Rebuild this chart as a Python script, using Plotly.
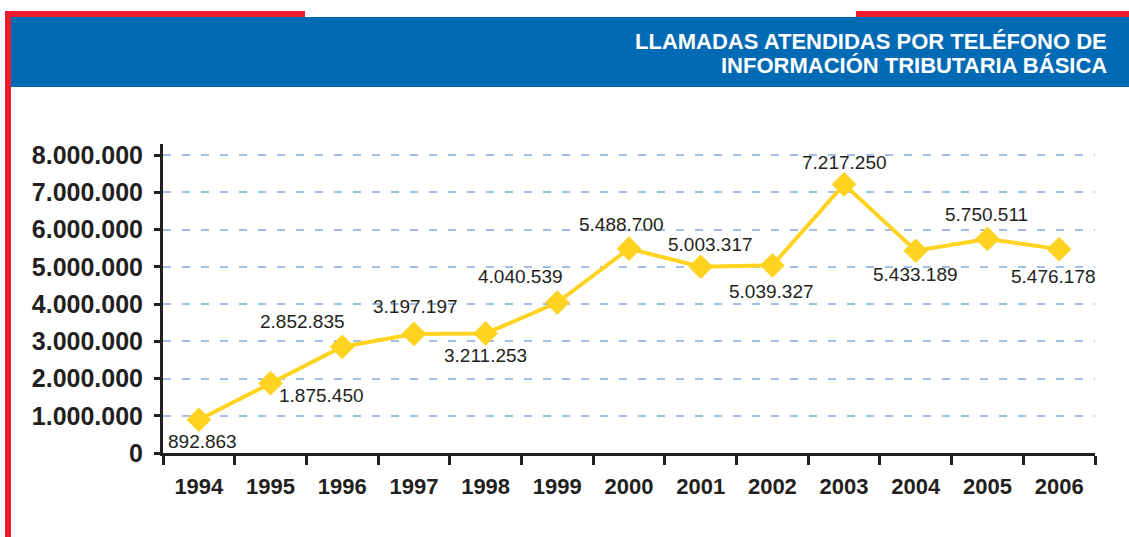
import plotly.graph_objects as go

years = ["1994", "1995", "1996", "1997", "1998", "1999", "2000",
         "2001", "2002", "2003", "2004", "2005", "2006"]
calls = [892863, 1875450, 2852835, 3197197, 3211253, 4040539, 5488700,
         5003317, 5039327, 7217250, 5433189, 5750511, 5476178]
# label offsets (px) relative to each point
label_dx = [4, 51, -40, 2, 0, -37, -8, 10, -1, 0, 0, -1, -6]
label_dy = [22, 12, -25, -27, 22, -26, -24, -22, 26, -22, 24, -24, 27]

title_lines = ["LLAMADAS ATENDIDAS POR TELÉFONO DE", "INFORMACIÓN TRIBUTARIA BÁSICA"]

W, H = 1129, 537
L, R, T, B = 163, 34, 144, 84
PW, PH = W - L - R, H - T - B

def px(x):
    return (x - L) / PW

def py(y):
    return (H - B - y) / PH

YELLOW = "#FFD320"
DARK = "#231F20"
BLUE = "#006AB4"
RED = "#ED1C2E"
FONT = "Liberation Sans, Arial, sans-serif"

fig = go.Figure()
fig.add_trace(go.Scatter(
    x=years, y=calls, mode="lines+markers",
    line=dict(color=YELLOW, width=4),
    marker=dict(symbol="diamond", size=19, color=YELLOW),
    hoverinfo="skip", showlegend=False,
))

annotations = []
for i, (v, dx, dy) in enumerate(zip(calls, label_dx, label_dy)):
    annotations.append(dict(
        x=i, y=v, xref="x", yref="y", text=f"{v:,}".replace(",", "."),
        showarrow=False, xshift=dx, yshift=-dy,
        font=dict(family=FONT, size=19, color=DARK),
    ))
for line, yc in zip(title_lines, [42, 65]):
    annotations.append(dict(
        x=px(1109), y=py(yc), xref="paper", yref="paper",
        text=line, showarrow=False, xanchor="right", yanchor="middle", align="right",
        font=dict(family=FONT, size=22, color="white", weight="bold"),
    ))

shapes = [
    dict(type="rect", xref="paper", yref="paper", x0=px(5), x1=px(11), y0=py(11), y1=py(537),
         fillcolor=RED, line_width=0, layer="below"),
    dict(type="rect", xref="paper", yref="paper", x0=px(5), x1=px(305), y0=py(11), y1=py(17),
         fillcolor=RED, line_width=0, layer="below"),
    dict(type="rect", xref="paper", yref="paper", x0=px(856), x1=px(1129), y0=py(11), y1=py(17),
         fillcolor=RED, line_width=0, layer="below"),
    dict(type="rect", xref="paper", yref="paper", x0=px(11), x1=px(1129), y0=py(17), y1=py(87),
         fillcolor=BLUE, line_width=0, layer="below"),
]

fig.update_layout(
    width=W, height=H, autosize=False,
    margin=dict(l=L, r=R, t=T, b=B),
    paper_bgcolor="white", plot_bgcolor="white",
    separators=",.",
    annotations=annotations, shapes=shapes,
    xaxis=dict(
        type="category", range=[-0.5, 12.5], tickson="boundaries",
        ticks="outside", ticklen=9, tickwidth=3, tickcolor=DARK,
        showline=True, linecolor=DARK, linewidth=3, showgrid=False,
        ticklabelstandoff=12,
        tickfont=dict(family=FONT, size=22, color=DARK, weight="bold"),
        fixedrange=True,
    ),
    yaxis=dict(
        range=[0, 8.3e6], tickvals=[0, 1e6, 2e6, 3e6, 4e6, 5e6, 6e6, 7e6, 8e6],
        tickformat=",d", ticks="outside", ticklen=6, tickwidth=3, tickcolor=DARK,
        showline=True, linecolor=DARK, linewidth=3,
        showgrid=True, gridcolor="#A4BEE6", gridwidth=1.5, griddash="8px,11px",
        zeroline=False, ticklabelstandoff=6,
        tickfont=dict(family=FONT, size=25, color=DARK, weight="bold"),
        fixedrange=True,
    ),
)

fig.write_html("out.html", config={"displayModeBar": False},
               post_script="document.body.style.margin='0';")
